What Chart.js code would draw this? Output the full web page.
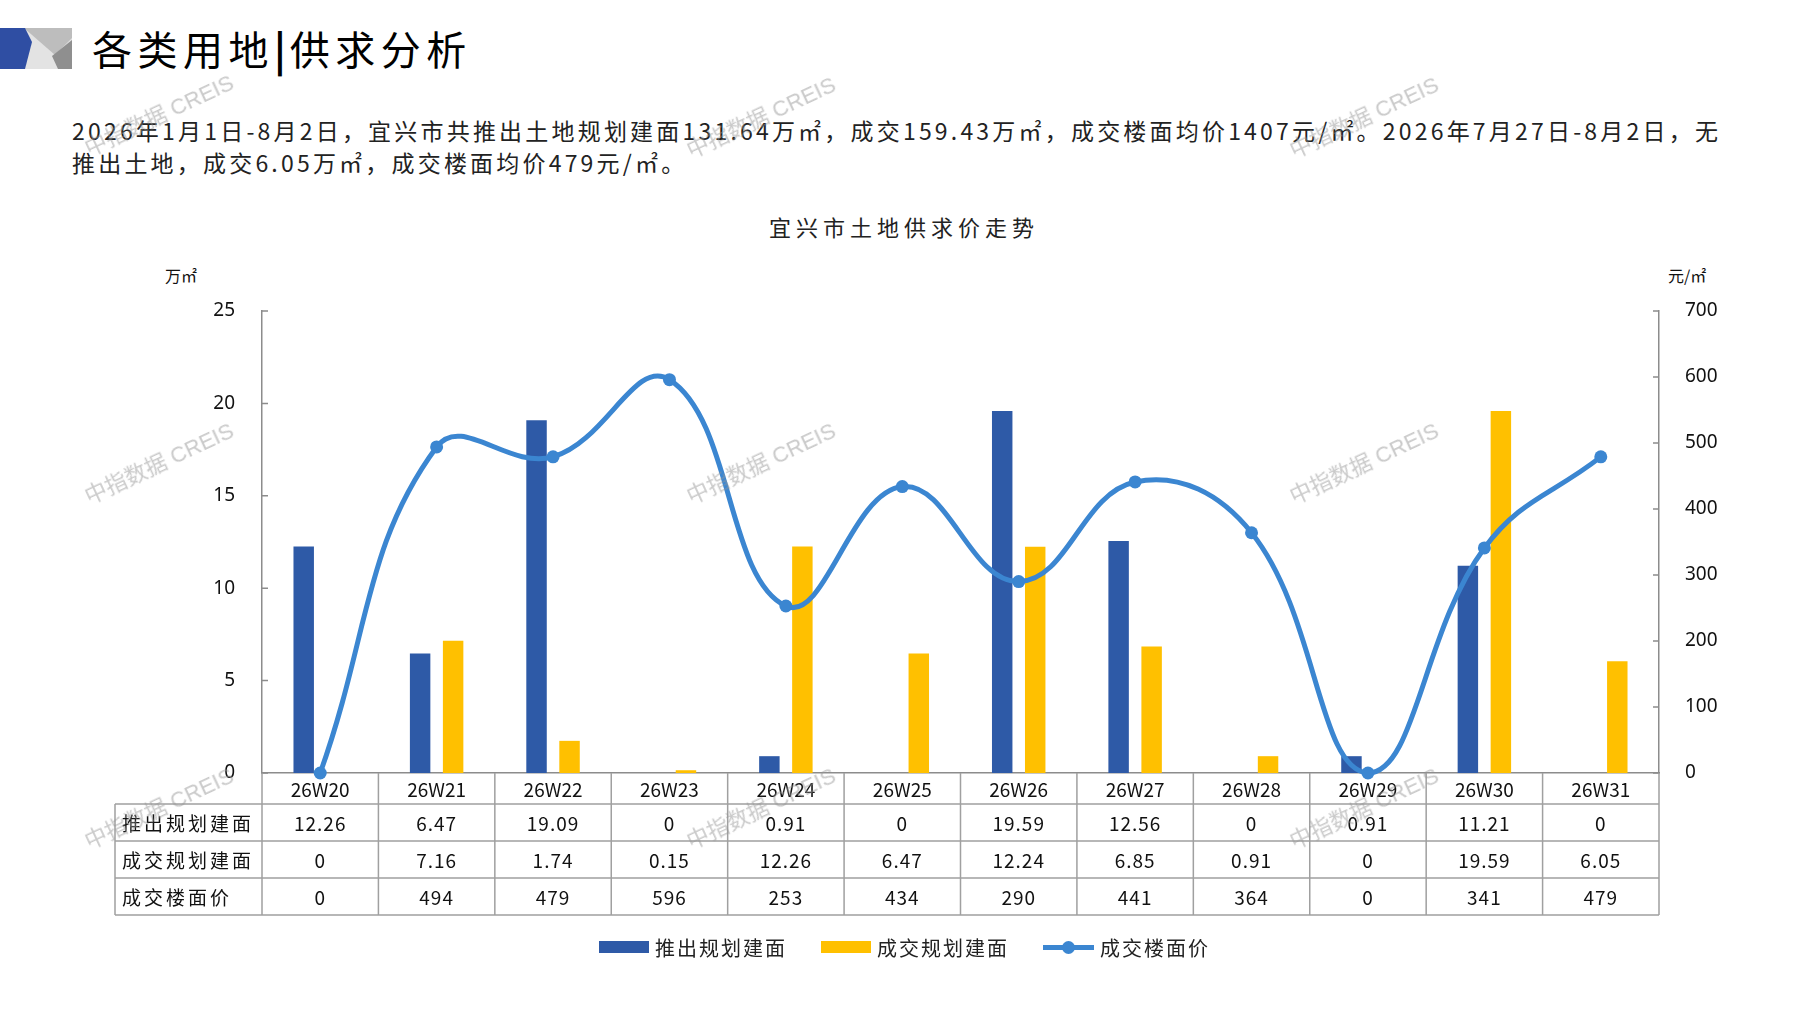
<!DOCTYPE html>
<html>
<head>
<meta charset="utf-8">
<script src="https://cdn.jsdelivr.net/npm/chart.js@4.4.0/dist/chart.umd.min.js"></script>
<style>
  html, body { margin: 0; padding: 0; background: #fff; }
  body { width: 1797px; height: 1010px; position: relative; overflow: hidden;
         font-family: "Noto Sans CJK SC", sans-serif; color: #111; }
  .abs { position: absolute; white-space: nowrap; }
  #logo { left: 0; top: 28px; }
  #title { left: 92px; top: 22px; font-size: 40px; line-height: 52px; letter-spacing: 5.5px; color: #000; }
  #title b { font-weight: 700; letter-spacing: 4px; }
  .para { left: 72px; font-size: 23px; line-height: 30px; letter-spacing: 3.2px; color: #222; }
  #chartTitle { left: 904px; top: 210px; transform: translateX(-50%); font-size: 22px; letter-spacing: 5px; color: #222; }
  .unit { top: 263px; font-size: 16px; color: #111; }
  #chart { position: absolute; left: 0; top: 0; }
  #legend { left: 599px; top: 934px; height: 26px; display: flex; align-items: center; font-size: 20px; letter-spacing: 2px; color: #222; }
  #legend .sw { width: 50px; height: 12px; margin-right: 6px; }
  #legend .ln { width: 51px; height: 5px; margin-right: 6px; position: relative; }
  #legend .ln i { position: absolute; left: 19px; top: -4px; width: 13px; height: 13px; border-radius: 50%; }
  #legend .item { display: flex; align-items: center; margin-right: 34px; }
  .wm { font-family: "Liberation Sans", "Noto Sans CJK SC", sans-serif; font-size: 22px; color: rgba(150,150,150,0.5);
        transform: translate(-50%, -50%) rotate(-25deg); pointer-events: none; z-index: 10; }
</style>
</head>
<body>
<svg id="logo" class="abs" width="72" height="41" viewBox="0 0 72 41">
  <rect x="0" y="0" width="72" height="41" fill="#e3e3e3"/>
  <polygon points="24,0 72,0 72,10 55,27" fill="#bdbdbd"/>
  <polygon points="72,12 72,41 58,41 52,28" fill="#8f8f8f"/>
  <polygon points="0,0 25,0 32,14 25,41 0,41" fill="#2f4ea3"/>
</svg>
<div id="title" class="abs">各类用地<b>|</b>供求分析</div>
<div class="abs para" style="top:115px">2026年1月1日-8月2日，宜兴市共推出土地规划建面131.64万㎡，成交159.43万㎡，成交楼面均价1407元/㎡。2026年7月27日-8月2日，无</div>
<div class="abs para" style="top:147px">推出土地，成交6.05万㎡，成交楼面均价479元/㎡。</div>
<div id="chartTitle" class="abs">宜兴市土地供求价走势</div>
<div class="abs unit" style="left:165px">万㎡</div>
<div class="abs unit" style="left:1668px">元/㎡</div>

<canvas id="chart" width="1797" height="1010"></canvas>
<div id="legend" class="abs"></div>

<script>
const weeks = ["26W20", "26W21", "26W22", "26W23", "26W24", "26W25", "26W26", "26W27", "26W28", "26W29", "26W30", "26W31"];
const supplyArea = [12.26, 6.47, 19.09, 0, 0.91, 0, 19.59, 12.56, 0, 0.91, 11.21, 0];
const dealArea = [0, 7.16, 1.74, 0.15, 12.26, 6.47, 12.24, 6.85, 0.91, 0, 19.59, 6.05];
const dealPrice = [0, 494, 479, 596, 253, 434, 290, 441, 364, 0, 341, 479];
const seriesNames = ["推出规划建面", "成交规划建面", "成交楼面价"];

const BLUE = "#2e5aa7";
const YELLOW = "#ffc000";
const LINE = "#3b86d1";
const AXIS = "#8c8c8c";

// inward tick marks + data table under the x axis
const tablePlugin = {
  id: "dataTable",
  afterDraw(chart) {
    const { ctx, chartArea: a, scales } = chart;
    const x = scales.x;
    ctx.save();
    ctx.strokeStyle = AXIS;
    ctx.lineWidth = 1.5;
    ctx.beginPath();
    scales.y.ticks.forEach(t => {
      const py = scales.y.getPixelForValue(t.value);
      ctx.moveTo(a.left, py); ctx.lineTo(a.left + 6, py);
    });
    scales.y1.ticks.forEach(t => {
      const py = scales.y1.getPixelForValue(t.value);
      ctx.moveTo(a.right - 6, py); ctx.lineTo(a.right, py);
    });
    ctx.stroke();

    const rows = [supplyArea, dealArea, dealPrice];
    const top = a.bottom, headH = 31, rowH = 37;
    const labelLeft = 115;
    const bottom = top + headH + rowH * rows.length;
    const colW = (a.right - a.left) / weeks.length;

    ctx.strokeStyle = "#a0a0a0";
    ctx.lineWidth = 1.5;
    ctx.beginPath();
    for (let r = 0; r <= rows.length; r++) {
      const yy = top + headH + rowH * r;
      ctx.moveTo(labelLeft, yy); ctx.lineTo(a.right, yy);
    }
    ctx.moveTo(labelLeft, top + headH); ctx.lineTo(labelLeft, bottom);
    for (let i = 0; i <= weeks.length; i++) {
      const xx = a.left + colW * i;
      ctx.moveTo(xx, top); ctx.lineTo(xx, bottom);
    }
    ctx.stroke();

    ctx.fillStyle = "#111";
    ctx.textBaseline = "middle";
    ctx.font = '19px "Noto Sans CJK SC"';
    ctx.textAlign = "center";
    ctx.letterSpacing = "0px";
    weeks.forEach((w, i) => {
      ctx.fillText(w, x.getPixelForValue(i), top + headH / 2 + 1);
    });
    rows.forEach((vals, r) => {
      const cy = top + headH + rowH * r + rowH / 2 + 1;
      ctx.textAlign = "center";
      ctx.letterSpacing = "1px";
      vals.forEach((v, i) => ctx.fillText(String(v), x.getPixelForValue(i), cy));
      ctx.textAlign = "left";
      ctx.letterSpacing = "3px";
      ctx.fillText(seriesNames[r], labelLeft + 7, cy);
    });
    ctx.restore();
  }
};

new Chart(document.getElementById("chart"), {
  type: "bar",
  data: {
    labels: weeks,
    datasets: [
      {
        type: "line",
        label: seriesNames[2],
        data: dealPrice,
        yAxisID: "y1",
        borderColor: LINE,
        backgroundColor: LINE,
        borderWidth: 5,
        pointRadius: 6.5,
        pointBorderWidth: 0,
        pointBackgroundColor: LINE,
        tension: 0.42,
        clip: false,
        order: 0,
      },
      {
        label: seriesNames[0],
        data: supplyArea,
        yAxisID: "y",
        backgroundColor: BLUE,
        categoryPercentage: 0.567,
        barPercentage: 0.62,
        order: 1,
      },
      {
        label: seriesNames[1],
        data: dealArea,
        yAxisID: "y",
        backgroundColor: YELLOW,
        categoryPercentage: 0.567,
        barPercentage: 0.62,
        order: 1,
      },
    ],
  },
  options: {
    responsive: false,
    animation: false,
    layout: { padding: { top: 311, bottom: 237, left: 0, right: 0 } },
    plugins: { legend: { display: false }, tooltip: { enabled: false } },
    scales: {
      x: {
        grid: { display: false },
        border: { color: AXIS, width: 1.5 },
        ticks: { display: false },
        afterFit: s => { s.height = 0; },
      },
      y: {
        position: "left",
        min: 0, max: 25,
        ticks: { stepSize: 5, padding: 19, color: "#111", font: { family: "Noto Sans", size: 19 } },
        grid: { display: false },
        border: { color: AXIS, width: 1.5 },
        afterFit: s => { s.width = 262; },
      },
      y1: {
        position: "right",
        min: 0, max: 700,
        ticks: { stepSize: 100, padding: 18, color: "#111", font: { family: "Noto Sans", size: 19 } },
        grid: { display: false },
        border: { color: AXIS, width: 1.5 },
        afterFit: s => { s.width = 138; },
      },
    },
  },
  plugins: [tablePlugin],
});

// legend
const legend = document.getElementById("legend");
[[BLUE, "bar"], [YELLOW, "bar"], [LINE, "line"]].forEach(([c, kind], i) => {
  const item = document.createElement("div");
  item.className = "item";
  item.innerHTML = kind === "bar"
    ? `<span class="sw" style="background:${c}"></span>${seriesNames[i]}`
    : `<span class="ln" style="background:${c}"><i style="background:${c}"></i></span>${seriesNames[i]}`;
  legend.appendChild(item);
});

// watermarks
[[158, 113], [760, 115], [1363, 115], [158, 461], [760, 461], [1363, 461], [158, 806], [760, 806], [1363, 806]]
  .forEach(([cx, cy]) => {
    const d = document.createElement("div");
    d.className = "abs wm";
    d.style.left = cx + "px";
    d.style.top = cy + "px";
    d.textContent = "中指数据 CREIS";
    document.body.appendChild(d);
  });
</script>
</body>
</html>
